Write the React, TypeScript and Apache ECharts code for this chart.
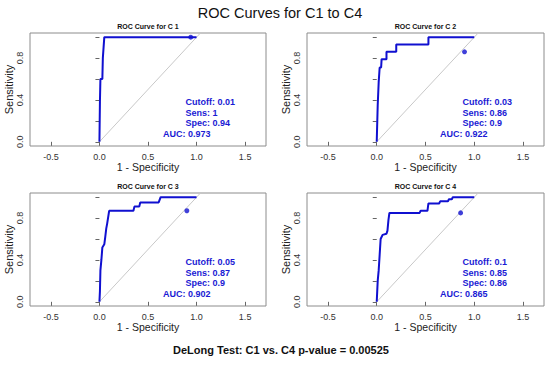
import React, { useEffect, useRef } from "react";
import * as echarts from "echarts";

// ROC curves: [1 - specificity, sensitivity] step points
const rocC1: [number, number][] = [
  [0, 0], [0.005, 0.38], [0.01, 0.6], [0.03, 0.6], [0.035, 0.8], [0.05, 1], [1, 1],
];
const rocC2: [number, number][] = [
  [0, 0], [0.01, 0.35], [0.02, 0.57], [0.03, 0.71], [0.045, 0.71], [0.05, 0.79],
  [0.1, 0.79], [0.1, 0.86], [0.2, 0.86], [0.2, 0.93], [0.53, 0.93], [0.53, 1], [1, 1],
];
const rocC3: [number, number][] = [
  [0, 0], [0.005, 0.1], [0.01, 0.3], [0.02, 0.4], [0.03, 0.52], [0.05, 0.55],
  [0.06, 0.62], [0.07, 0.7], [0.08, 0.75], [0.1, 0.87], [0.35, 0.87], [0.36, 0.91],
  [0.41, 0.91], [0.42, 0.95], [0.61, 0.95], [0.63, 1], [1, 1],
];
const rocC4: [number, number][] = [
  [0, 0], [0.005, 0.1], [0.01, 0.2], [0.02, 0.3], [0.03, 0.45], [0.04, 0.6],
  [0.06, 0.64], [0.1, 0.65], [0.11, 0.68], [0.12, 0.78], [0.13, 0.85], [0.44, 0.85],
  [0.45, 0.87], [0.52, 0.87], [0.53, 0.94], [0.64, 0.94], [0.65, 0.96], [0.73, 0.96],
  [0.74, 0.98], [0.77, 0.98], [0.78, 1], [1, 1],
];
const chanceLine: [number, number][] = [[0, 0], [1.04, 1.04]];

const panelNames = ["C 1", "C 2", "C 3", "C 4"];
const cutoffs = ["0.01", "0.03", "0.05", "0.1"];
const sensValues = [1, 0.86, 0.87, 0.85];
const specValues = [0.94, 0.9, 0.9, 0.86];
const aucValues = ["0.973", "0.922", "0.902", "0.865"];

const xTicks = [-0.5, 0, 0.5, 1, 1.5];
const yTicks = [0, 0.2, 0.4, 0.6, 0.8, 1];
const yLabels = [0, 0.4, 0.8];

const mainTitle = "ROC Curves for C1 to C4";
const footer = "DeLong Test: C1 vs. C4 p-value = 0.00525";

const FONT = "'Liberation Sans', Arial, sans-serif";
const BLUE = "#1010d0";
const TEXT_BLUE = "#1a1ad4";

export default function App() {
  const ref = useRef<HTMLDivElement>(null);

  useEffect(() => {
    document.body.style.margin = "0";
    if (!ref.current) return;
    const chart = echarts.init(ref.current, undefined, { renderer: "svg" });
    const curves = [rocC1, rocC2, rocC3, rocC4];
    const grids = [
      { left: 30, top: 33, width: 236, height: 113 },
      { left: 307, top: 33, width: 237, height: 113 },
      { left: 30, top: 193, width: 236, height: 113 },
      { left: 307, top: 193, width: 237, height: 113 },
    ];

    const xAxis = grids.map((_, i) => ({
      type: "value",
      gridIndex: i,
      min: -0.715,
      max: 1.715,
      splitLine: { show: false },
      axisLine: { show: false },
      axisTick: { show: true, length: 4, customValues: xTicks, lineStyle: { color: "#666" } },
      axisLabel: {
        customValues: xTicks,
        formatter: (v: number) => v.toFixed(1),
        fontSize: 9,
        color: "#333",
        margin: 6,
        fontFamily: FONT,
      },
      name: "1 - Specificity",
      nameLocation: "middle",
      nameGap: 15,
      nameTextStyle: { fontSize: 10.5, color: "#222", fontFamily: FONT },
    }));

    const yAxis = grids.map((_, i) => ({
      type: "value",
      gridIndex: i,
      min: -0.04,
      max: 1.04,
      splitLine: { show: false },
      axisLine: { show: false },
      axisTick: { show: true, length: 4, customValues: yTicks, lineStyle: { color: "#666" } },
      axisLabel: {
        customValues: yLabels,
        formatter: (v: number) => v.toFixed(1),
        rotate: 90,
        fontSize: 9,
        color: "#333",
        margin: 6,
        fontFamily: FONT,
      },
      name: "Sensitivity",
      nameLocation: "middle",
      nameGap: 16,
      nameTextStyle: { fontSize: 11, color: "#222", fontFamily: FONT },
    }));

    const series: any[] = [];
    curves.forEach((c, i) => {
      series.push({
        type: "line",
        xAxisIndex: i,
        yAxisIndex: i,
        data: chanceLine,
        showSymbol: false,
        silent: true,
        lineStyle: { color: "#c8c8c8", width: 1 },
        z: 1,
      });
      series.push({
        type: "line",
        xAxisIndex: i,
        yAxisIndex: i,
        data: c,
        showSymbol: false,
        lineStyle: { color: BLUE, width: 2 },
        z: 3,
      });
      series.push({
        type: "scatter",
        xAxisIndex: i,
        yAxisIndex: i,
        data: [[specValues[i], sensValues[i]]],
        symbolSize: 5,
        itemStyle: { color: BLUE },
        z: 4,
      });
    });

    const txt = (
      text: string,
      x: number,
      y: number,
      size: number,
      weight: string,
      fill: string,
      align: string
    ) => ({
      type: "text",
      x,
      y,
      silent: true,
      style: {
        text,
        fontSize: size,
        fontWeight: weight,
        fontFamily: FONT,
        fill,
        align,
        textAlign: align,
        verticalAlign: "middle",
        textVerticalAlign: "middle",
      },
    });

    const graphic: any[] = [];
    graphic.push(txt(mainTitle, 280, 13, 14.5, "normal", "#111", "center"));
    graphic.push(txt(footer, 281, 350, 11, "bold", "#111", "center"));
    grids.forEach((g, i) => {
      graphic.push(
        txt("ROC Curve for " + panelNames[i], g.left + g.width / 2, g.top - 6.5, 7, "bold", "#111", "center")
      );
      const cx = g.left + 155.5;
      const ax = g.left + 133;
      graphic.push(txt("Cutoff: " + cutoffs[i], cx, g.top + 69, 9, "bold", TEXT_BLUE, "left"));
      graphic.push(txt("Sens: " + sensValues[i], cx, g.top + 79.5, 9, "bold", TEXT_BLUE, "left"));
      graphic.push(txt("Spec: " + specValues[i], cx, g.top + 90, 9, "bold", TEXT_BLUE, "left"));
      graphic.push(txt("AUC: " + aucValues[i], ax, g.top + 100.5, 9, "bold", TEXT_BLUE, "left"));
    });

    chart.setOption({
      animation: false,
      backgroundColor: "#fff",
      grid: grids.map((g) => ({ ...g, show: true, borderColor: "#8c8c8c", borderWidth: 1, backgroundColor: "transparent" })),
      xAxis,
      yAxis,
      series,
      graphic,
    });
    return () => chart.dispose();
  }, []);

  return <div ref={ref} style={{ width: 550, height: 368 }} />;
}
